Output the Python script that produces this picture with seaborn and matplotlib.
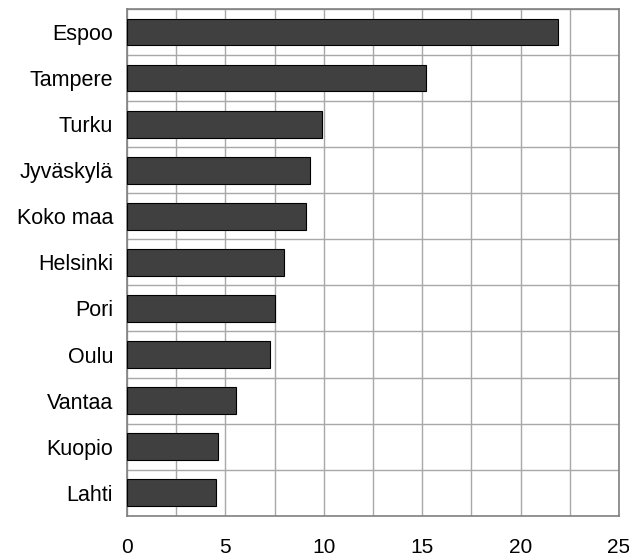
import numpy as np
import pandas as pd
import matplotlib
matplotlib.use('Agg')
import matplotlib.pyplot as plt
import seaborn as sns
from matplotlib.ticker import MultipleLocator, FixedLocator

# --- Data ---
cities = ['Espoo', 'Tampere', 'Turku', 'Jyväskylä', 'Koko maa', 'Helsinki',
          'Pori', 'Oulu', 'Vantaa', 'Kuopio', 'Lahti']
values = [21.9, 15.2, 9.9, 9.3, 9.1, 8.0, 7.5, 7.25, 5.55, 4.6, 4.5]

df = pd.DataFrame({'city': cities, 'value': values})

sns.set_style('white')
plt.rcParams['font.family'] = ['Liberation Sans', 'DejaVu Sans']
plt.rcParams['text.color'] = 'black'
plt.rcParams['xtick.color'] = 'black'
plt.rcParams['ytick.color'] = 'black'

fig = plt.figure(figsize=(6.29, 5.6), dpi=100)
ax = fig.add_axes([0.202, 0.079, 0.782, 0.905])

sns.barplot(data=df, x='value', y='city', order=cities, orient='h',
            color='#404040', saturation=1, width=0.58,
            edgecolor='black', linewidth=0.8, ax=ax, zorder=3)

ax.set_xlim(0, 25)
ax.set_ylim(len(cities) - 0.5, -0.5)

# x: labels every 5, grid every 2.5
ax.xaxis.set_major_locator(MultipleLocator(5))
ax.xaxis.set_minor_locator(MultipleLocator(2.5))
# y: labels at centres, grid/ticks at band boundaries
ax.yaxis.set_minor_locator(FixedLocator(np.arange(-0.5, len(cities), 1.0)))
ax.tick_params(axis='y', which='major', length=0, labelsize=15.5, pad=10,
               labelcolor='black')
ax.tick_params(axis='y', which='minor', length=10, direction='inout', color='#808080', width=1)
ax.tick_params(axis='x', which='both', length=10, direction='inout', color='#808080', width=1)
ax.tick_params(axis='x', which='major', labelsize=15, pad=11, labelcolor='black')

ax.grid(True, which='minor', axis='both', color='#a8a8a8', linewidth=1, zorder=0)
ax.grid(True, which='major', axis='x', color='#a8a8a8', linewidth=1, zorder=0)
ax.set_axisbelow(True)

for s in ax.spines.values():
    s.set_visible(True)
    s.set_color('#808080')
    s.set_linewidth(1.2)

ax.set_xlabel('')
ax.set_ylabel('')

plt.savefig('out.png', dpi=100)
plt.close()
